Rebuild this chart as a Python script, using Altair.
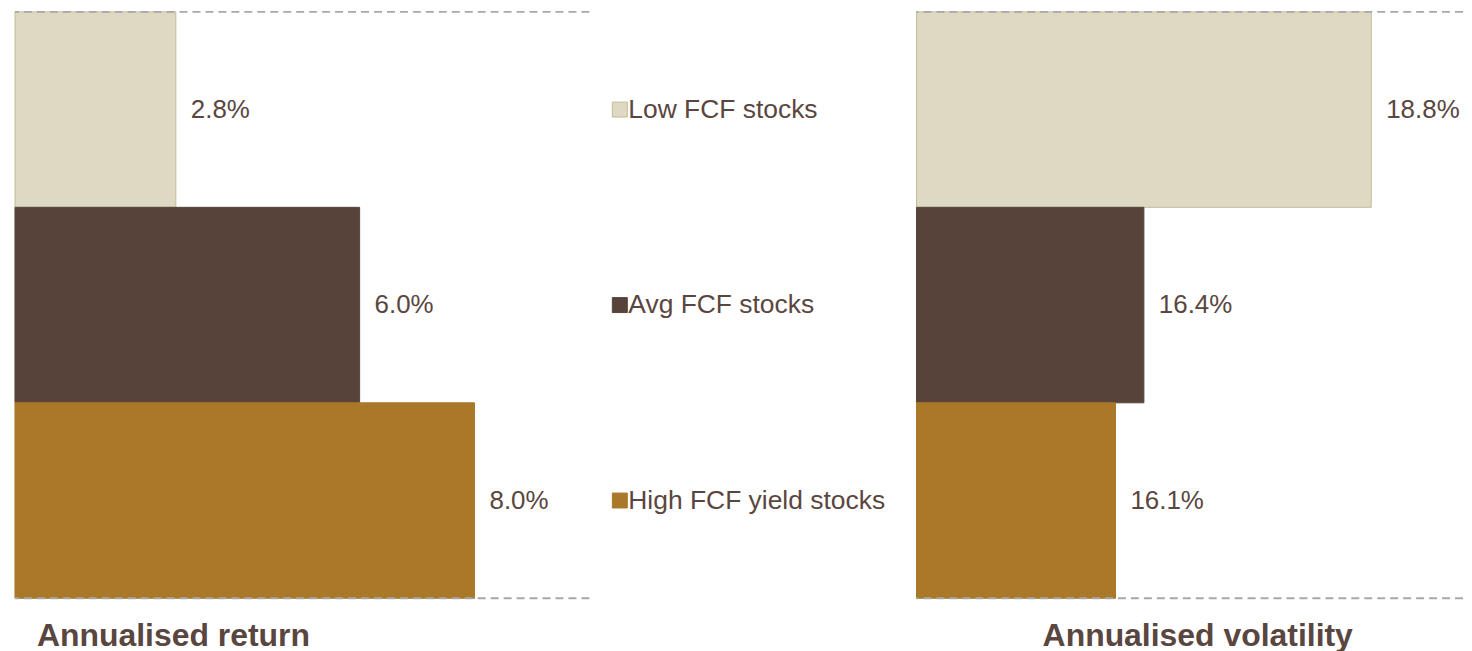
import altair as alt
import pandas as pd

categories = ["Low FCF stocks", "Avg FCF stocks", "High FCF yield stocks"]
returns = [2.8, 6.0, 8.0]
volatility = [18.8, 16.4, 16.1]
return_labels = ["2.8%", "6.0%", "8.0%"]
volatility_labels = ["18.8%", "16.4%", "16.1%"]
fills = ["#DDD9C3", "#574339", "#A97829"]
strokes = ["#C4BD97", "#574339", "#A97829"]

TEXT = "#5A4640"
FONT = "Liberation Sans"
H = 588

df = pd.DataFrame({
    "cat": categories,
    "ret": returns,
    "vol": volatility,
    "ret_lbl": return_labels,
    "vol_lbl": volatility_labels,
})
one = pd.DataFrame({"k": [0]})

color = alt.Color("cat:N", scale=alt.Scale(domain=categories, range=fills), legend=None)
stroke = alt.Stroke("cat:N", scale=alt.Scale(domain=categories, range=strokes), legend=None)
y = alt.Y("cat:N", sort=categories, axis=None,
          scale=alt.Scale(paddingInner=0, paddingOuter=0))


def panel(field, lbl, domain, width, title, anchor, dx):
    xenc = alt.X(f"{field}:Q", axis=None,
                 scale=alt.Scale(domain=domain, zero=False, nice=False, clamp=True))
    base = alt.Chart(df)
    bars = base.mark_bar(strokeWidth=1).encode(
        x=xenc, x2=alt.datum(domain[0]), y=y, color=color, stroke=stroke)
    text = base.mark_text(align="left", baseline="middle", dx=15, fontSize=26,
                          color=TEXT, font=FONT).encode(
        x=xenc, y=y, text=f"{lbl}:N")
    rule_top = alt.Chart(one).mark_rule(strokeDash=[8, 5], color="#A8A8A8",
                                        strokeWidth=2).encode(y=alt.value(0))
    rule_bot = alt.Chart(one).mark_rule(strokeDash=[8, 5], color="#A8A8A8",
                                        strokeWidth=2).encode(y=alt.value(H))
    return alt.layer(bars, text, rule_top, rule_bot).properties(
        width=width, height=H,
        title=alt.TitleParams(title, orient="bottom", anchor=anchor, dx=dx,
                              offset=22, fontSize=32, fontWeight="bold",
                              color=TEXT, font=FONT),
    )


left = panel("ret", "ret_lbl", [0, 10], 576, "Annualised return", "start", 23)
right = panel("vol", "vol_lbl", [14, 14 + 548 / 95], 548, "Annualised volatility", "middle", 8)

lbase = alt.Chart(df)
leg_sq = lbase.mark_square(size=225, strokeWidth=1, opacity=1).encode(
    x=alt.value(29.5), y=y, color=color, stroke=stroke)
leg_tx = lbase.mark_text(align="left", baseline="middle", fontSize=26.5,
                         color=TEXT, font=FONT).encode(
    x=alt.value(38), y=y, text="cat:N")
middle = alt.layer(leg_sq, leg_tx).properties(width=326, height=H)

chart = alt.hconcat(left, middle, right, spacing=0).properties(
    padding={"left": 6, "top": 2, "right": 0, "bottom": 0}
).configure_view(stroke=None).configure_concat(spacing=0)

chart.save("out.html", embed_options={"renderer": "svg", "actions": False})
